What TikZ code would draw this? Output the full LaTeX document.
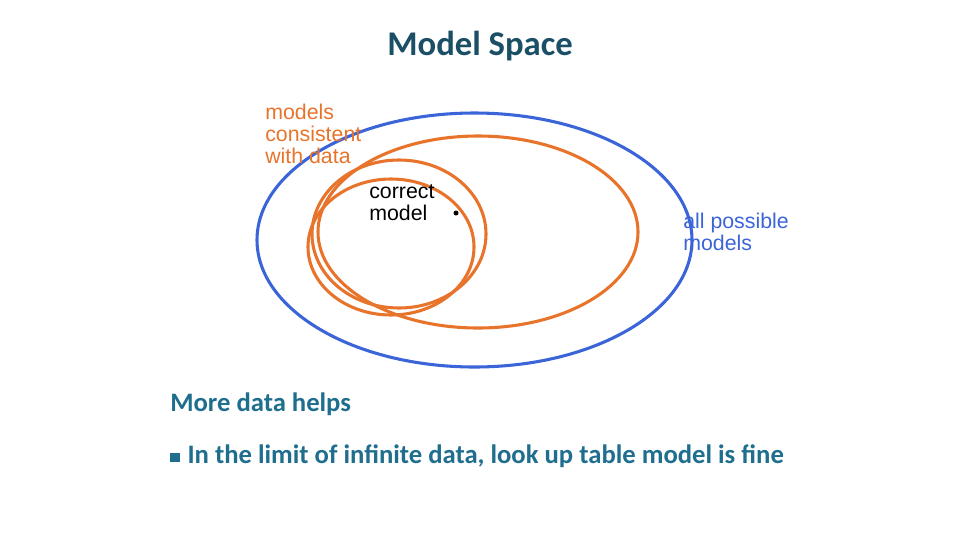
\documentclass[tikz,border=0pt]{standalone}
\usepackage{fontspec}
\setmainfont{Liberation Sans}
\newfontfamily\calfont{Carlito}
\definecolor{ttl}{HTML}{1B4F66}
\definecolor{tl}{HTML}{1F6E8E}
\definecolor{bl}{HTML}{3B64D8}
\definecolor{og}{HTML}{E8732A}
\begin{document}
\begin{tikzpicture}[x=0.75pt,y=-0.75pt,
  blu/.style={draw=bl,line width=2.3pt},
  org/.style={draw=og,line width=2.3pt},
  lbl/.style={anchor=north west,inner sep=0pt,align=left,font=\fontsize{16}{16.5}\selectfont}]
\useasboundingbox (0,0) rectangle (960,540);
\node (title) at (480,46) {\calfont\bfseries\color{ttl}\fontsize{26}{30}\selectfont Model Space};
\draw[blu] (474.5,240) ellipse [x radius=217.5,y radius=127];
\draw[org] (478,232) ellipse [x radius=160,y radius=96];
\draw[org] (391,247) ellipse [x radius=83,y radius=68];
\draw[org] (399,234) ellipse [x radius=87,y radius=74];
\fill (456,213) circle [radius=2.5];
\node[lbl,text=og] (cons) at (265,104) {models\\consistent\\with data};
\node[lbl] (corr) at (369,184) {correct\\model};
\node[lbl,text=bl] (all) at (683,213) {all possible\\models};
\node[anchor=west,inner sep=0pt] (more) at (170,404) {\calfont\bfseries\color{tl}\fontsize{20}{24}\selectfont More data helps};
\node[anchor=west,inner sep=0pt] (bul) at (170,456) {\calfont\bfseries\color{tl}\fontsize{20}{24}\selectfont \rule[1pt]{7pt}{7pt}\hspace{6pt}In the limit of infinite data, look up table model is fine};
\end{tikzpicture}
\end{document}
